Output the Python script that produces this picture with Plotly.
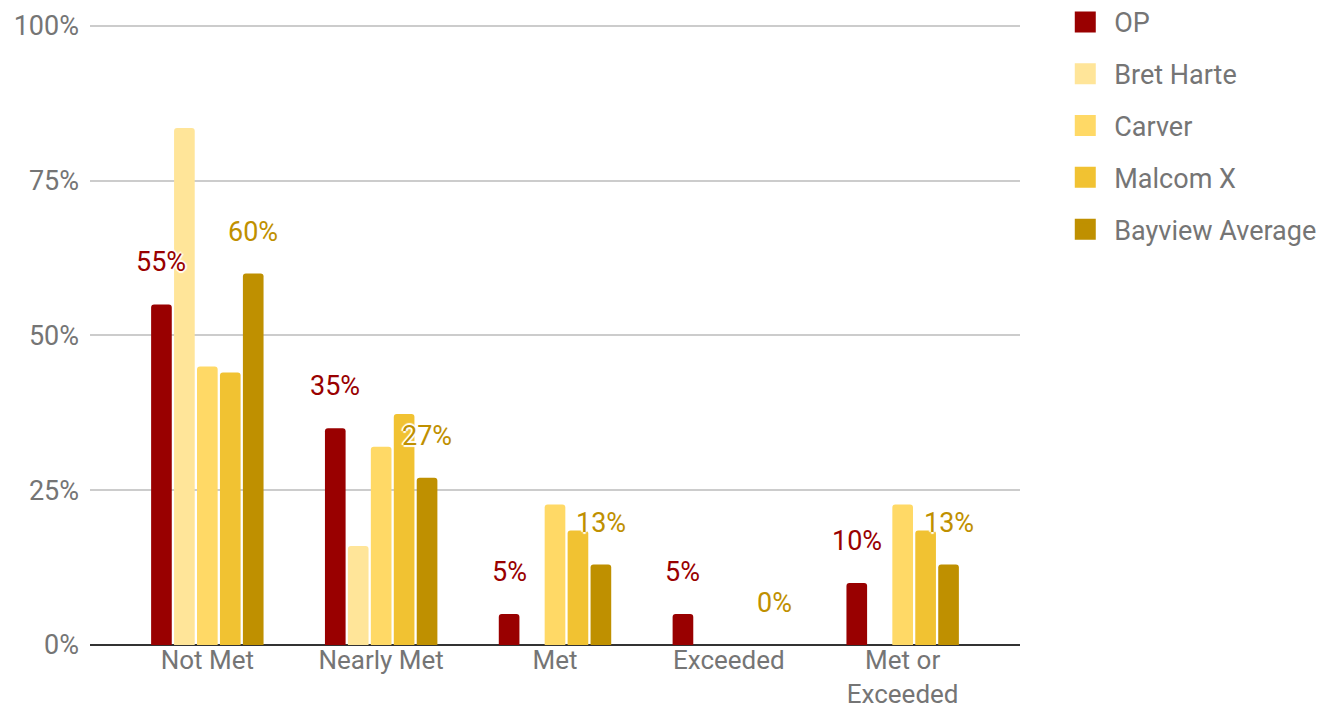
import plotly.graph_objects as go

categories = ["Not Met", "Nearly Met", "Met", "Exceeded", "Met or<br>Exceeded"]
series_names = ["OP", "Bret Harte", "Carver", "Malcom X", "Bayview Average"]
op = [55, 35, 5, 5, 10]
bret_harte = [83.5, 16, 0, 0, 0]
carver = [45, 32, 22.7, 0, 22.7]
malcom_x = [44, 37.3, 18.5, 0, 18.5]
bayview = [60, 27, 13, 0, 13]
colors = ["#990000", "#FFE599", "#FFD966", "#F1C232", "#BF9000"]
labeled = {"OP": "#990000", "Bayview Average": "#BF9000"}
y_ticks = [0, 25, 50, 75, 100]

values = [op, bret_harte, carver, malcom_x, bayview]
FONT = "Roboto"
FS = 27
GRAY = "#757575"
BARGAP = 0.34

fig = go.Figure()
for name, vals, col in zip(series_names, values, colors):
    fig.add_trace(go.Bar(
        x=categories, y=vals, name=name, marker_color=col,
        marker_line_width=0, marker_cornerradius=3, showlegend=False,
    ))
    # legend proxy with larger square symbol
    fig.add_trace(go.Scatter(
        x=[None], y=[None], mode="markers", name=name, legendgroup=name,
        marker=dict(symbol="square", size=16, color=col,
                    line=dict(color=col, width=5)),
    ))

# data labels for OP and Bayview Average
n = len(series_names)
slot = (1 - BARGAP) / n
halo = "2px 0 1px white, -2px 0 1px white, 0 2px 1px white, 0 -2px 1px white"
for si, (name, vals) in enumerate(zip(series_names, values)):
    if name not in labeled:
        continue
    off = (si - (n - 1) / 2) * slot
    for ci, v in enumerate(vals):
        fig.add_annotation(
            x=ci + off, y=v, xref="x", yref="y", text=f"{round(v)}%",
            showarrow=False, yanchor="middle", yshift=42,
            font=dict(family=FONT, size=FS, color=labeled[name], shadow=halo),
        )

fig.update_layout(
    width=1328, height=711,
    margin=dict(l=90, r=308, t=24, b=66, autoexpand=False),
    plot_bgcolor="white", paper_bgcolor="white",
    barmode="group", bargap=BARGAP, bargroupgap=0.1,
    font=dict(family=FONT, size=FS, color=GRAY),
    legend=dict(
        x=1.039, y=1.042, xanchor="left", yanchor="top",
        font=dict(family=FONT, size=FS, color=GRAY),
        tracegroupgap=13.7, itemwidth=48,
    ),
)
fig.update_xaxes(
    range=[-0.675, 4.675], showgrid=False, ticks="", showline=False,
    automargin=False, ticklabelstandoff=-3,
    tickfont=dict(family=FONT, size=26, color=GRAY),
)
fig.update_yaxes(
    range=[0, 100.3], tickvals=y_ticks, ticktext=[f"{t}%" for t in y_ticks],
    showgrid=True, gridcolor="#CCCCCC", gridwidth=1.5,
    zeroline=True, zerolinecolor="#333333", zerolinewidth=2,
    ticks="", ticklabelstandoff=10, automargin=False,
    tickfont=dict(family=FONT, size=FS, color=GRAY),
)

fig.write_html("out.html")
